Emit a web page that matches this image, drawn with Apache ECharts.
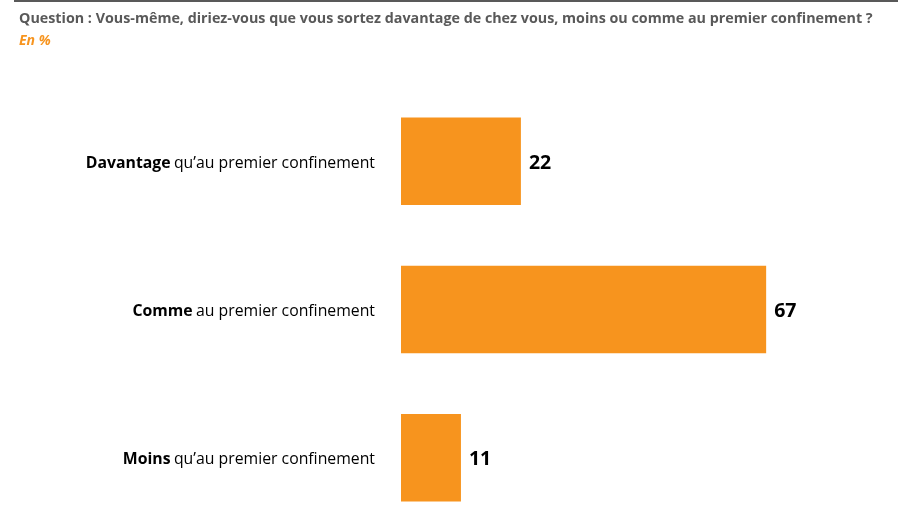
<!DOCTYPE html>
<html>
<head>
<meta charset="utf-8">
<script src="https://cdn.jsdelivr.net/npm/echarts@6/dist/echarts.min.js"></script>
<style>html,body{margin:0;padding:0;background:#fff;overflow:hidden;width:904px;height:509px}#c{width:904px;height:540px}</style>
</head>
<body>
<div id="c"></div>
<script>
var categoriesBold = ["Davantage", "Comme", "Moins"];
var categoriesRest = ["qu\u2019au premier confinement", "au premier confinement", "qu\u2019au premier confinement"];
var values = [22, 67, 11];
var titleText = "Question : Vous-même, diriez-vous que vous sortez davantage de chez vous, moins ou comme au premier confinement ?";
var subtitleText = "En %";

var cats = categoriesBold.map(function (b, i) { return b + "|" + categoriesRest[i]; });
var chart = echarts.init(document.getElementById('c'), null, { renderer: 'canvas' });
chart.setOption({
  animation: false,
  backgroundColor: '#ffffff',
  title: {
    text: titleText,
    subtext: subtitleText,
    left: 14, top: 7,
    itemGap: 8,
    textStyle: { fontFamily: 'Open Sans', fontWeight: 'bold', fontSize: 14.3, color: '#595959' },
    subtextStyle: { fontFamily: 'Open Sans', fontWeight: 'bold', fontStyle: 'italic', fontSize: 14, color: '#F7941E' }
  },
  graphic: [{
    type: 'line', shape: { x1: 14, y1: 1, x2: 898, y2: 1 },
    style: { stroke: '#595959', lineWidth: 2 }
  }],
  grid: { left: 401, top: 87, width: 436, height: 445, containLabel: false },
  xAxis: { type: 'value', min: 0, max: 80, show: false },
  yAxis: {
    type: 'category', inverse: true, data: cats,
    axisLine: { show: false }, axisTick: { show: false }, splitLine: { show: false },
    axisLabel: {
      margin: 26,
      formatter: function (v) {
        var p = v.split('|');
        return '{b|' + p[0] + '} {n|' + p[1] + '}';
      },
      rich: {
        b: { fontFamily: 'Open Sans', fontWeight: 'bold', fontSize: 15.8, color: '#000', padding: [4, 0, 0, 0] },
        n: { fontFamily: 'Open Sans', fontWeight: 'normal', fontSize: 15.8, color: '#000', padding: [4, 0, 0, 0] }
      }
    }
  },
  series: [{
    type: 'bar', data: values, barCategoryGap: '41%',
    itemStyle: { color: '#F7941E' },
    label: {
      show: true, position: 'right', distance: 8, offset: [0, 2],
      fontFamily: 'Open Sans', fontWeight: 'bold', fontSize: 19.5, color: '#000'
    }
  }]
});
</script>
</body>
</html>
